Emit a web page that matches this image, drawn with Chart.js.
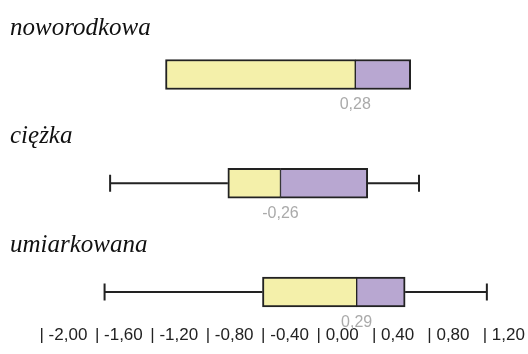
<!DOCTYPE html>
<html lang="pl">
  <head>
    <meta charset="UTF-8" />
    <title>Box plot</title>
    <script src="https://cdn.jsdelivr.net/npm/chart.js"></script>
    <style>
      html, body { margin: 0; padding: 0; background: #fff; }
      #wrap { width: 528px; height: 354px; position: relative; }
    </style>
  </head>
  <body>
    <div id="wrap"><canvas id="boxChart"></canvas></div>

    <script>
      // data
      const categories = ["noworodkowa", "ciężka", "umiarkowana"];
      const mins = [-1.09, -1.49, -1.53];
      const q1s = [-1.09, -0.64, -0.39];
      const medians = [0.28, -0.26, 0.29];
      const q3s = [0.68, 0.37, 0.64];
      const maxs = [0.68, 0.74, 1.23];
      const tickValues = [-2.0, -1.6, -1.2, -0.8, -0.4, 0.0, 0.4, 0.8, 1.2];
      const tickLabels = ["| -2,00", "| -1,60", "| -1,20", "| -0,80", "| -0,40", "| 0,00", "| 0,40", "| 0,80", "| 1,20"];

      const lineColor = "#222";
      const tickPad = 33;
      const tickFontSize = 17;

      // whiskers go behind the boxes, only where they stick out
      const whiskers = {
        id: "whiskers",
        beforeDatasetsDraw(chart) {
          const { ctx, scales: { x, y } } = chart;
          ctx.save();
          ctx.strokeStyle = lineColor;
          ctx.lineWidth = 2;
          categories.forEach((_, i) => {
            const cy = y.getPixelForValue(i);
            const ends = [
              [mins[i], q1s[i]],
              [maxs[i], q3s[i]],
            ];
            ends.forEach(([tip, edge]) => {
              if (tip === edge) return;
              const xTip = x.getPixelForValue(tip);
              const xEdge = x.getPixelForValue(edge);
              ctx.beginPath();
              ctx.moveTo(xTip, cy);
              ctx.lineTo(xEdge, cy);
              ctx.moveTo(xTip, cy - 8.5);
              ctx.lineTo(xTip, cy + 8.5);
              ctx.stroke();
            });
          });
          ctx.restore();
        },
      };

      // category titles and median values
      const labelsPlugin = {
        id: "labelsPlugin",
        afterDraw(chart) {
          const { ctx, scales: { x, y } } = chart;
          ctx.save();
          categories.forEach((name, i) => {
            const cy = y.getPixelForValue(i);
            ctx.font = "italic 25px 'Liberation Serif'";
            ctx.fillStyle = "#111";
            ctx.textAlign = "left";
            ctx.textBaseline = "alphabetic";
            ctx.fillText(name, 10, cy - 40);

            ctx.font = "16px 'Liberation Sans'";
            ctx.fillStyle = "#aaa";
            ctx.textAlign = "center";
            ctx.textBaseline = "middle";
            ctx.fillText(medians[i].toFixed(2).replace(".", ","), x.getPixelForValue(medians[i]), cy + 30.5);
          });
          ctx.restore();
        },
      };

      new Chart(document.getElementById("boxChart"), {
        type: "bar",
        data: {
          labels: categories,
          datasets: [
            {
              label: "Q1 - mediana",
              data: categories.map((_, i) => [q1s[i], medians[i]]),
              backgroundColor: "#f4f0aa",
              borderColor: lineColor,
              borderWidth: { top: 2, bottom: 2, left: 2, right: 1 },
              borderSkipped: false,
              barThickness: 30,
              grouped: false,
              clip: false,
            },
            {
              label: "mediana - Q3",
              data: categories.map((_, i) => [medians[i], q3s[i]]),
              backgroundColor: "#b8a7d1",
              borderColor: lineColor,
              borderWidth: { top: 2, bottom: 2, left: 1, right: 2 },
              borderSkipped: false,
              barThickness: 30,
              grouped: false,
              clip: false,
            },
          ],
        },
        options: {
          indexAxis: "y",
          responsive: true,
          maintainAspectRatio: false,
          animation: false,
          layout: { padding: { top: 74.5, bottom: 8.6, left: 0, right: 0 } },
          plugins: {
            legend: { display: false },
            tooltip: { enabled: false },
          },
          scales: {
            y: {
              type: "category",
              offset: false,
              display: false,
            },
            x: {
              type: "linear",
              min: -2.285,
              max: 1.527,
              grid: { display: false, drawTicks: false },
              border: { display: false },
              afterBuildTicks: (scale) => {
                scale.ticks = tickValues.map((v) => ({ value: v }));
              },
              afterFit: (scale) => {
                scale.paddingLeft = 0;
                scale.paddingRight = 0;
                scale.height = tickPad + tickFontSize * 1.2;
              },
              ticks: {
                autoSkip: false,
                maxRotation: 0,
                align: "start",
                padding: tickPad,
                color: "#222",
                font: { family: "'Liberation Sans'", size: tickFontSize },
                callback: (value, index) => tickLabels[index],
              },
            },
          },
        },
        plugins: [whiskers, labelsPlugin],
      });
    </script>
  </body>
</html>
